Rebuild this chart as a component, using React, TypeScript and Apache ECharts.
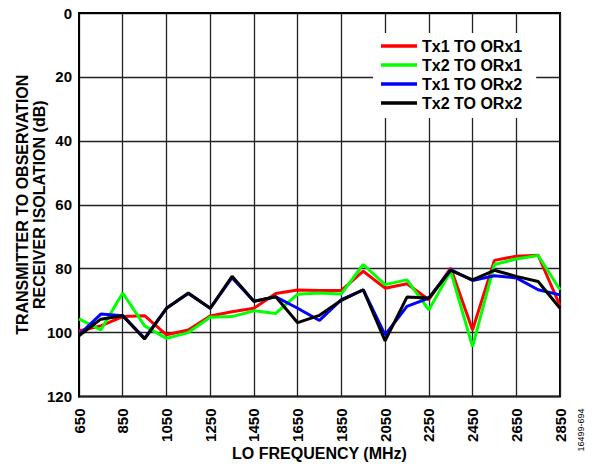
import React, { useEffect, useRef } from "react";
import * as echarts from "echarts";

const frequencies = [
  "650", "750", "850", "950", "1050", "1150", "1250", "1350", "1450", "1550", "1650", "1750",
  "1850", "1950", "2050", "2150", "2250", "2350", "2450", "2550", "2650", "2750", "2850",
];

const tx1ToOrx1 = [
  99.5, 97.9, 95.0, 94.7, 100.7, 99.2, 94.8, 93.5, 92.4, 87.8, 86.7, 86.8,
  86.8, 80.8, 86.1, 84.7, 89.7, 79.8, 99.2, 77.4, 76.1, 75.8, 91.6,
];
const tx2ToOrx1 = [
  95.7, 99.2, 87.6, 97.9, 101.8, 100.0, 95.2, 95.0, 93.2, 94.0, 88.0, 87.6,
  87.9, 78.7, 85.0, 83.5, 92.9, 80.8, 104.4, 78.7, 77.0, 75.9, 86.6,
];
const tx1ToOrx2 = [
  100.7, 94.2, 94.7, 101.8, 92.4, 87.8, 92.4, 82.8, 90.2, 88.8, 92.4, 96.2,
  89.7, 86.6, 100.7, 91.8, 89.2, 80.3, 83.7, 82.2, 82.9, 86.6, 88.2,
];
const tx2ToOrx2 = [
  101.0, 95.8, 94.7, 102.0, 92.4, 87.6, 92.4, 82.4, 90.2, 88.8, 96.9, 94.6,
  89.9, 86.6, 102.6, 88.9, 89.2, 80.5, 83.5, 80.5, 82.4, 84.0, 92.4,
];

const seriesNames = ["Tx1 TO ORx1", "Tx2 TO ORx1", "Tx1 TO ORx2", "Tx2 TO ORx2"];
const seriesColors = ["#ff0000", "#00ff00", "#0000ff", "#000000"];
const seriesValues = [tx1ToOrx1, tx2ToOrx1, tx1ToOrx2, tx2ToOrx2];

const FONT = "'Liberation Sans', Arial, sans-serif";

export default function App() {
  const ref = useRef<HTMLDivElement>(null);

  useEffect(() => {
    document.body.style.margin = "0";
    if (!ref.current) return;
    const chart = echarts.init(ref.current, null, { renderer: "svg" });
    chart.setOption({
      animation: false,
      backgroundColor: "#ffffff",
      textStyle: { fontFamily: FONT },
      grid: {
        left: 79,
        right: 43,
        top: 13,
        bottom: 71.5,
        show: true,
        borderColor: "#000",
        borderWidth: 2,
        backgroundColor: "transparent",
      },
      legend: {
        orient: "vertical",
        left: 373,
        top: 33,
        padding: [5, 14, 7, 8],
        backgroundColor: "#ffffff",
        icon: "rect",
        itemWidth: 36,
        itemHeight: 3.5,
        itemGap: 3,
        data: seriesNames,
        textStyle: {
          fontFamily: FONT,
          fontWeight: "bold",
          fontSize: 16,
          lineHeight: 16,
          color: "#000",
        },
      },
      xAxis: {
        type: "category",
        data: frequencies,
        boundaryGap: false,
        name: "LO FREQUENCY (MHz)",
        nameLocation: "middle",
        nameGap: 49,
        nameMoveOverlap: false,
        nameTextStyle: {
          fontFamily: FONT,
          fontWeight: "bold",
          fontSize: 16,
          color: "#000",
        },
        axisLine: { show: true, lineStyle: { color: "#000", width: 2 } },
        axisTick: { show: false },
        axisLabel: {
          interval: 1,
          rotate: 90,
          margin: 12,
          fontFamily: FONT,
          fontWeight: "bold",
          fontSize: 15,
          color: "#000",
        },
        splitLine: { show: true, interval: 1, lineStyle: { color: "#222", width: 1.3 } },
      },
      yAxis: {
        type: "value",
        inverse: true,
        min: 0,
        max: 120,
        interval: 20,
        name: "TRANSMITTER TO OBSERVATION\nRECEIVER ISOLATION (dB)",
        nameLocation: "middle",
        nameRotate: 90,
        nameGap: 31,
        nameMoveOverlap: false,
        nameTextStyle: {
          fontFamily: FONT,
          fontWeight: "bold",
          fontSize: 16,
          lineHeight: 17,
          color: "#000",
        },
        axisLine: { show: true, lineStyle: { color: "#000", width: 2 } },
        axisTick: { show: false },
        axisLabel: {
          margin: 7,
          fontFamily: FONT,
          fontWeight: "bold",
          fontSize: 15,
          color: "#000",
        },
        splitLine: { show: true, lineStyle: { color: "#222", width: 1.3 } },
      },
      series: seriesNames.map((name, i) => ({
        name,
        type: "line",
        data: seriesValues[i],
        symbol: "none",
        showSymbol: false,
        color: seriesColors[i],
        lineStyle: { color: seriesColors[i], width: 3 },
        z: 2 + i,
      })),
      graphic: [
        {
          type: "text",
          x: 581,
          y: 430,
          rotation: Math.PI / 2,
          style: {
            text: "16499-694",
            fontFamily: FONT,
            fontSize: 9,
            fill: "#000",
            align: "center",
            verticalAlign: "middle",
          },
        },
      ],
    });
    return () => chart.dispose();
  }, []);

  return <div ref={ref} style={{ width: 603, height: 468 }} />;
}
